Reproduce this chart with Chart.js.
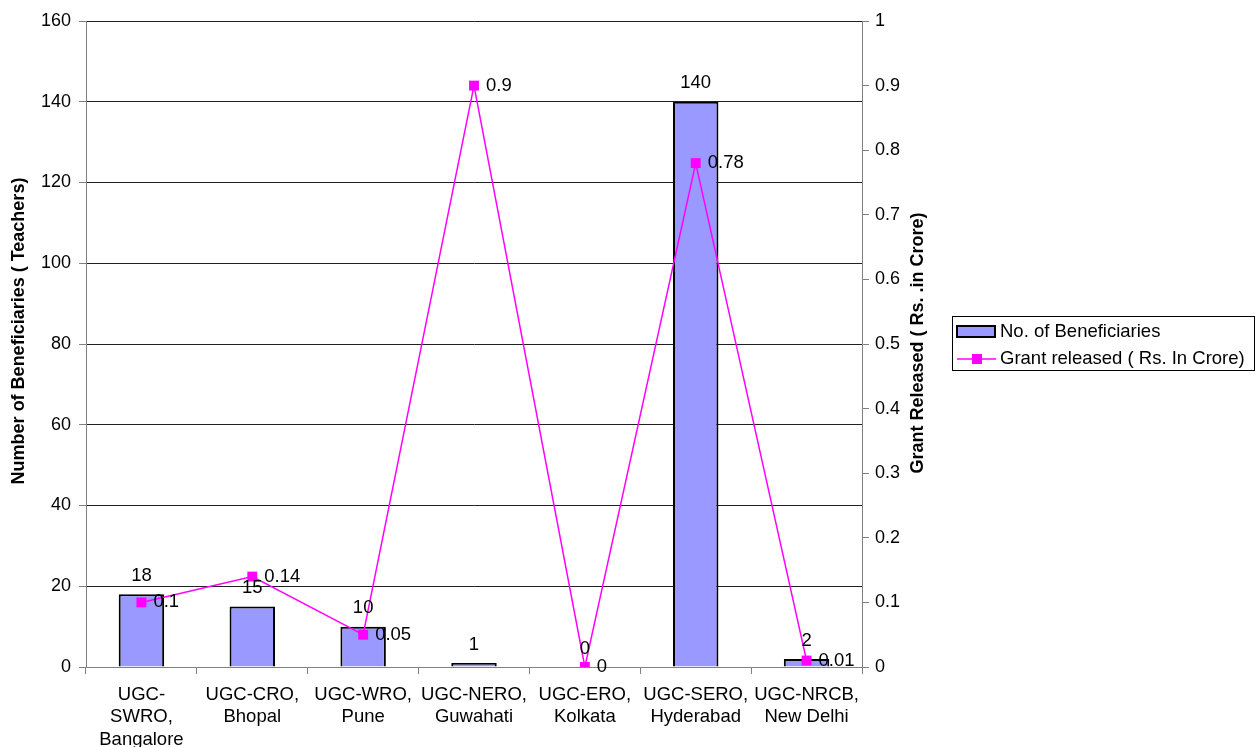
<!DOCTYPE html>
<html lang="en">
<head>
  <meta charset="UTF-8">
  <title>Beneficiaries and Grant Released by UGC Regional Office</title>
  <script src="https://cdn.jsdelivr.net/npm/chart.js"></script>
  <style>
    html, body { margin: 0; padding: 0; background: #fff; }
    .wrap { width: 1256px; height: 747px; position: relative; }
  </style>
</head>
<body>
  <div class="wrap">
    <canvas id="chart"></canvas>
  </div>

  <script>
    // data
    const offices = [
      ['UGC-', 'SWRO,', 'Bangalore'],
      ['UGC-CRO,', 'Bhopal'],
      ['UGC-WRO,', 'Pune'],
      ['UGC-NERO,', 'Guwahati'],
      ['UGC-ERO,', 'Kolkata'],
      ['UGC-SERO,', 'Hyderabad'],
      ['UGC-NRCB,', 'New Delhi']
    ];
    const beneficiaries = [18, 15, 10, 1, 0, 140, 2];
    const grantReleased = [0.1, 0.14, 0.05, 0.9, 0, 0.78, 0.01];

    const leftTitle = 'Number of Beneficiaries ( Teachers)';
    const rightTitle = 'Grant Released ( Rs. .in Crore)';

    const FONT = "'Liberation Sans', Arial, sans-serif";
    const BAR_FILL = '#9999ff';
    const LINE_COL = '#ff00ff';

    // value labels on bars and points
    const valueLabels = {
      id: 'valueLabels',
      afterDatasetsDraw(chart) {
        const ctx = chart.ctx;
        ctx.save();
        ctx.font = '18.5px ' + FONT;
        ctx.fillStyle = '#000';
        chart.data.datasets.forEach((ds, i) => {
          const meta = chart.getDatasetMeta(i);
          meta.data.forEach((el, j) => {
            const v = ds.data[j];
            if (ds.type === 'bar') {
              ctx.textAlign = 'center';
              ctx.textBaseline = 'middle';
              ctx.fillText(String(v), el.x, el.y - 18.5);
            } else {
              ctx.textAlign = 'left';
              ctx.textBaseline = 'middle';
              ctx.fillText(String(v), el.x + 12, el.y);
            }
          });
        });
        ctx.restore();
      }
    };

    // axis titles and boxed legend, placed like the original
    const decorations = {
      id: 'decorations',
      afterDraw(chart) {
        const ctx = chart.ctx;
        ctx.save();
        ctx.fillStyle = '#000';
        ctx.font = 'bold 18px ' + FONT;
        ctx.textAlign = 'center';
        ctx.textBaseline = 'middle';

        ctx.save();
        ctx.translate(19, 331);
        ctx.rotate(-Math.PI / 2);
        ctx.fillText(leftTitle, 0, 0);
        ctx.restore();

        ctx.save();
        ctx.translate(918, 343);
        ctx.rotate(-Math.PI / 2);
        ctx.fillText(rightTitle, 0, 0);
        ctx.restore();

        // legend
        const bx = 952, by = 316, bw = 302, bh = 54;
        ctx.strokeStyle = '#000';
        ctx.lineWidth = 1;
        ctx.strokeRect(bx + 0.5, by + 0.5, bw, bh);

        const barDs = chart.data.datasets[0];
        const lineDs = chart.data.datasets[1];

        ctx.fillStyle = barDs.backgroundColor;
        ctx.fillRect(957, 326, 38, 11);
        ctx.lineWidth = 2;
        ctx.strokeStyle = '#000';
        ctx.strokeRect(957, 326, 38, 11);

        ctx.strokeStyle = lineDs.borderColor;
        ctx.lineWidth = 1.5;
        ctx.beginPath();
        ctx.moveTo(957, 359);
        ctx.lineTo(996, 359);
        ctx.stroke();
        ctx.fillStyle = lineDs.borderColor;
        ctx.fillRect(972, 354, 10, 10);

        ctx.fillStyle = '#000';
        ctx.font = '18.5px ' + FONT;
        ctx.textAlign = 'left';
        ctx.fillText(barDs.label, 1000, 332);
        ctx.fillText(lineDs.label, 1000, 359);
        ctx.restore();
      }
    };

    const ctx = document.getElementById('chart').getContext('2d');
    new Chart(ctx, {
      data: {
        labels: offices,
        datasets: [
          {
            type: 'bar',
            label: 'No. of Beneficiaries',
            data: beneficiaries,
            yAxisID: 'y',
            backgroundColor: BAR_FILL,
            borderColor: '#000',
            borderWidth: 2,
            categoryPercentage: 1,
            barPercentage: 0.41,
            order: 1
          },
          {
            type: 'line',
            label: 'Grant released ( Rs. In Crore)',
            data: grantReleased,
            yAxisID: 'y1',
            borderColor: LINE_COL,
            backgroundColor: LINE_COL,
            borderWidth: 1.5,
            pointStyle: 'rect',
            pointRadius: 7,
            pointBorderWidth: 0,
            pointBackgroundColor: LINE_COL,
            tension: 0,
            order: 0
          }
        ]
      },
      options: {
        responsive: true,
        maintainAspectRatio: false,
        animation: false,
        layout: { padding: { top: 21, left: 0, right: 334, bottom: 0 } },
        plugins: {
          legend: { display: false },
          tooltip: { enabled: false }
        },
        scales: {
          x: {
            offset: true,
            grid: {
              offset: true,
              drawOnChartArea: false,
              drawTicks: true,
              tickLength: 7,
              color: '#808080'
            },
            border: { display: true, color: '#808080' },
            ticks: {
              color: '#000',
              padding: 10,
              maxRotation: 0,
              autoSkip: false,
              font: { family: FONT, size: 18.5, lineHeight: 1.2 }
            },
            afterFit(scale) { scale.height = 80; }
          },
          y: {
            position: 'left',
            min: 0,
            max: 160,
            ticks: {
              stepSize: 20,
              color: '#000',
              padding: 8,
              font: { family: FONT, size: 18 }
            },
            grid: {
              color: '#202020',
              tickColor: '#808080',
              tickLength: 7
            },
            border: { display: true, color: '#808080' },
            afterFit(scale) { scale.width = 86; }
          },
          y1: {
            position: 'right',
            min: 0,
            max: 1,
            ticks: {
              stepSize: 0.1,
              color: '#000',
              padding: 6,
              font: { family: FONT, size: 18 },
              callback: v => String(Math.round(v * 10) / 10)
            },
            grid: {
              drawOnChartArea: false,
              color: '#808080',
              tickLength: 7
            },
            border: { display: true, color: '#808080' },
            afterFit(scale) { scale.width = 60; }
          }
        }
      },
      plugins: [valueLabels, decorations]
    });
  </script>
</body>
</html>
